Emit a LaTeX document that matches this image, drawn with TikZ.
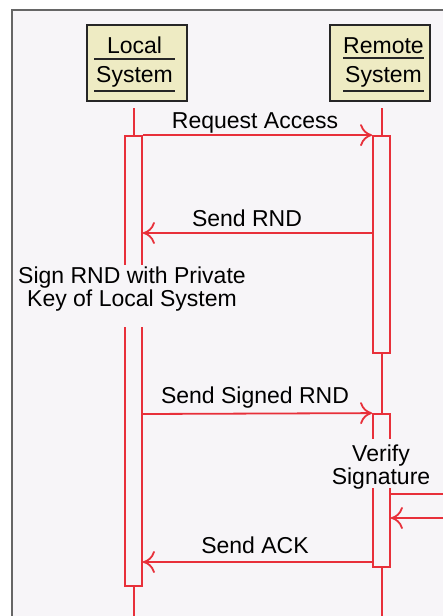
\documentclass[tikz,border=0pt]{standalone}
\usepackage{fontspec}
\setmainfont{Liberation Sans}
\usetikzlibrary{arrows.meta}
\definecolor{bgc}{HTML}{F7F5F8}
\definecolor{boxfill}{HTML}{EEEBC3}
\definecolor{lred}{HTML}{E8303A}
\definecolor{framec}{HTML}{666666}
\tikzset{
  x=1pt, y=-1pt,
  headbox/.style={draw=black!85, line width=2pt, fill=boxfill, minimum width=100pt, minimum height=76pt, inner sep=0pt},
  headtxt/.style={anchor=base, inner sep=0pt, font=\fontsize{23}{23}\selectfont},
  uline/.style={line width=1.6pt, black!85},
  life/.style={lred, line width=2pt},
  act/.style={draw=lred, line width=1.8pt, fill=bgc, minimum width=17pt, inner sep=0pt},
  msg/.style={lred, line width=1.8pt, -{To[length=12pt,width=22pt]}},
  plain/.style={lred, line width=1.8pt},
  lbl/.style={anchor=base, inner sep=0pt, font=\fontsize{23}{23}\selectfont},
  note/.style={anchor=north, inner sep=0pt, align=center},
  gap/.style={fill=bgc, inner sep=0pt, minimum width=30pt}
}
\begin{document}
\begin{tikzpicture}
\useasboundingbox (0,0) rectangle (442,616);
\fill[white] (0,0) rectangle (442,616);
\draw[framec, line width=1.5pt, fill=bgc] (12,10) rectangle (470,650);

% headers
\node[headbox] (L) at (137,63) {};
\node[headbox] (R) at (380,63) {};
\node[headtxt] (Lt1) at (134.5,53) {Local};
\node[headtxt] (Lt2) at (134.5,82) {System};
\node[headtxt] (Rt1) at (383.5,53) {Remote};
\node[headtxt] (Rt2) at (383.5,82) {System};
\coordinate (Lu1a) at (94,59); \coordinate (Lu1b) at (175,59);
\coordinate (Lu2a) at (94,91); \coordinate (Lu2b) at (175,91);
\coordinate (Ru1a) at (343,58); \coordinate (Ru1b) at (424,58);
\coordinate (Ru2a) at (343,91); \coordinate (Ru2b) at (424,91);
\draw[uline] (Lu1a) -- (Lu1b);
\draw[uline] (Lu2a) -- (Lu2b);
\draw[uline] (Ru1a) -- (Ru1b);
\draw[uline] (Ru2a) -- (Ru2b);

% activation boxes
\node[act, minimum height=450pt] (actL) at (133.5,361) {};
\node[act, minimum height=217pt] (actR1) at (381.5,244.5) {};
\node[act, minimum height=153pt] (actR2) at (381.5,490.5) {};

% lifelines
\coordinate (Ltop) at (133.5,108);
\coordinate (Lbot) at (133.5,630);
\coordinate (Rtop) at (381.5,108);
\coordinate (Rbot) at (381.5,630);
\draw[life] (Ltop) -- (actL.north);
\draw[life] (actL.south) -- (Lbot);
\draw[life] (Rtop) -- (actR1.north);
\draw[life] (actR1.south) -- (actR2.north);
\draw[life] (actR2.south) -- (Rbot);

% message levels
\coordinate (y2) at (0,233);
\coordinate (y3) at (0,414);
\coordinate (y4) at (0,494);
\coordinate (y5) at (0,518);
\coordinate (y6) at (0,562);
\coordinate (selfA) at (470,494);
\coordinate (selfB) at (470,518);

\draw[msg] (actL.north east) -- (actR1.north west);
\draw[msg] (actR1.west |- y2) -- (actL.east |- y2);
\draw[msg] (actL.east |- y3) -- (actR2.north west);
\draw[plain] (actR2.east |- y4) -- (selfA);
\draw[msg] (selfB) -- (actR2.east |- y5);
\draw[msg] (actR2.west |- y6) -- (actL.east |- y6);

% labels
\node[lbl] (m1) at (255,128) {Request Access};
\node[lbl] (m2) at (247,226) {Send RND};
\node[lbl] (m3) at (255,403) {Send Signed RND};
\node[lbl] (m4) at (255,553) {Send ACK};

% notes
\node[gap, minimum height=62pt] (g1) at (133.5,296) {};
\node[gap, minimum height=49pt] (g2) at (381.5,463.5) {};
\node[note, font=\fontsize{23}{21}\selectfont] (n1) at (132,267) {Sign RND with Private\\Key of Local System};
\node[note, font=\fontsize{23}{19.5}\selectfont] (n2) at (381,445) {Verify\\Signature};
\end{tikzpicture}
\end{document}
